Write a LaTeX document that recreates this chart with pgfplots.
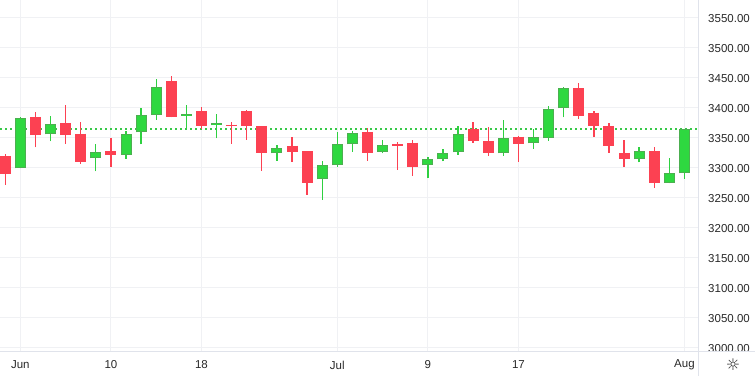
\documentclass[border=0pt]{standalone}
\usepackage{fontspec}
\setmainfont{Liberation Sans}
\newfontfamily\djv{DejaVu Sans}
\usepackage{pgfplots}
\pgfplotsset{compat=1.18}
\usepackage{pgfplotstable}
\definecolor{upfill}{RGB}{46,216,64}
\definecolor{upedge}{RGB}{76,175,80}
\definecolor{upwick}{RGB}{46,208,64}
\definecolor{dotc}{RGB}{56,200,72}
\definecolor{dncol}{RGB}{252,65,82}
\definecolor{gridc}{RGB}{240,241,244}
\definecolor{linec}{RGB}{224,227,235}
\definecolor{txt}{RGB}{40,40,40}

\pgfplotstableread{
i o h l c
1 3298 3383 3298 3382
3 3355 3386 3343 3372
6 3315 3339 3293 3325
8 3321 3361 3314 3355
9 3358 3399 3338 3387
10 3387 3447 3379 3433
12 3386 3404 3366 3389
14 3370 3389 3348 3373
18 3323 3337 3311 3332
21 3280 3311 3246 3303
22 3303 3359 3301 3338
23 3338 3361 3326 3357
25 3326 3346 3323 3337
28 3303 3317 3282 3313
29 3313 3330 3310 3323
30 3325 3369 3321 3355
33 3323 3379 3319 3348
35 3340 3363 3331 3350
36 3348 3402 3344 3397
37 3398 3434 3383 3432
42 3313 3334 3308 3327
44 3274 3316 3273 3290
45 3290 3363 3281 3363
}\uptbl

\pgfplotstableread{
i o h l c
0 3319 3322 3271 3288
2 3384 3392 3333 3353
4 3374 3404 3339 3353
5 3356 3376 3306 3309
7 3327 3349 3301 3321
11 3444 3452 3383 3384
13 3394 3401 3363 3369
15 3371 3376 3339 3368
16 3394 3396 3346 3369
17 3369 3369 3294 3323
19 3336 3351 3309 3326
20 3327 3327 3254 3273
24 3359 3366 3311 3324
26 3338 3342 3296 3335
27 3341 3346 3286 3301
31 3363 3376 3341 3343
32 3344 3367 3319 3324
34 3351 3352 3309 3338
38 3432 3441 3381 3386
39 3391 3394 3351 3368
40 3369 3374 3324 3336
41 3324 3346 3301 3314
43 3327 3334 3266 3274
}\dntbl

\begin{document}
\begin{tikzpicture}
\path[use as bounding box] (0,-25bp) rectangle (755bp,351bp);
\begin{axis}[
  scale only axis, width=698bp, height=351bp,
  at={(0,0)}, anchor=south west,
  xmin=-0.35, xmax=45.9, ymin=2993.8, ymax=3578.8,
  axis line style={draw=none}, major tick length=0pt,
  xtick={1,7,13,22,28,34,45}, xticklabels={Jun,10,18,Jul,9,17,Aug},
  ytick={3000,3050,...,3550},
  yticklabel pos=right,
  grid=major, major grid style={gridc, line width=1bp},
  xticklabel style={anchor=center, inner sep=0pt, yshift=-14bp, font=\fontsize{11.5bp}{13bp}\selectfont, text=txt},
  yticklabel style={anchor=east, inner sep=0pt, xshift=52bp, yshift=-1bp, font=\fontsize{11.5bp}{13bp}\selectfont, text=txt,
    /pgf/number format/.cd, fixed, fixed zerofill, precision=2, 1000 sep={}, assume math mode=true},
]
% last price line (behind the candles)
\addplot[dotc, line width=2bp, dash pattern=on 2bp off 3bp] coordinates {(-0.35,3363.3) (45.9,3363.3)};
% wicks
\addplot[upwick, line width=1.3bp, quiver={u=0, v=\thisrow{h}-\thisrow{l}}] table[x=i, y=l] {\uptbl};
\addplot[dncol, line width=1.3bp, quiver={u=0, v=\thisrow{h}-\thisrow{l}}] table[x=i, y=l] {\dntbl};
% bodies
\addplot[upedge, line width=11bp, quiver={u=0, v=\thisrow{c}-\thisrow{o}}] table[x=i, y=o] {\uptbl};
\addplot[upfill, line width=9bp, shorten >=1bp, shorten <=1bp, quiver={u=0, v=\thisrow{c}-\thisrow{o}}] table[x=i, y=o] {\uptbl};
\addplot[dncol, line width=11bp, quiver={u=0, v=\thisrow{c}-\thisrow{o}}] table[x=i, y=o] {\dntbl};
\end{axis}
\fill[white] (698.5bp,-25bp) rectangle (755bp,-0.5bp);
\draw[linec, line width=1bp] (0,0) -- (755bp,0);
\draw[linec, line width=1bp] (698bp,-25bp) -- (698bp,351bp);
\node[text=txt, inner sep=0pt] at (733bp,-13.5bp) {\djv\fontsize{16bp}{16bp}\selectfont ☼};
\end{tikzpicture}
\end{document}
